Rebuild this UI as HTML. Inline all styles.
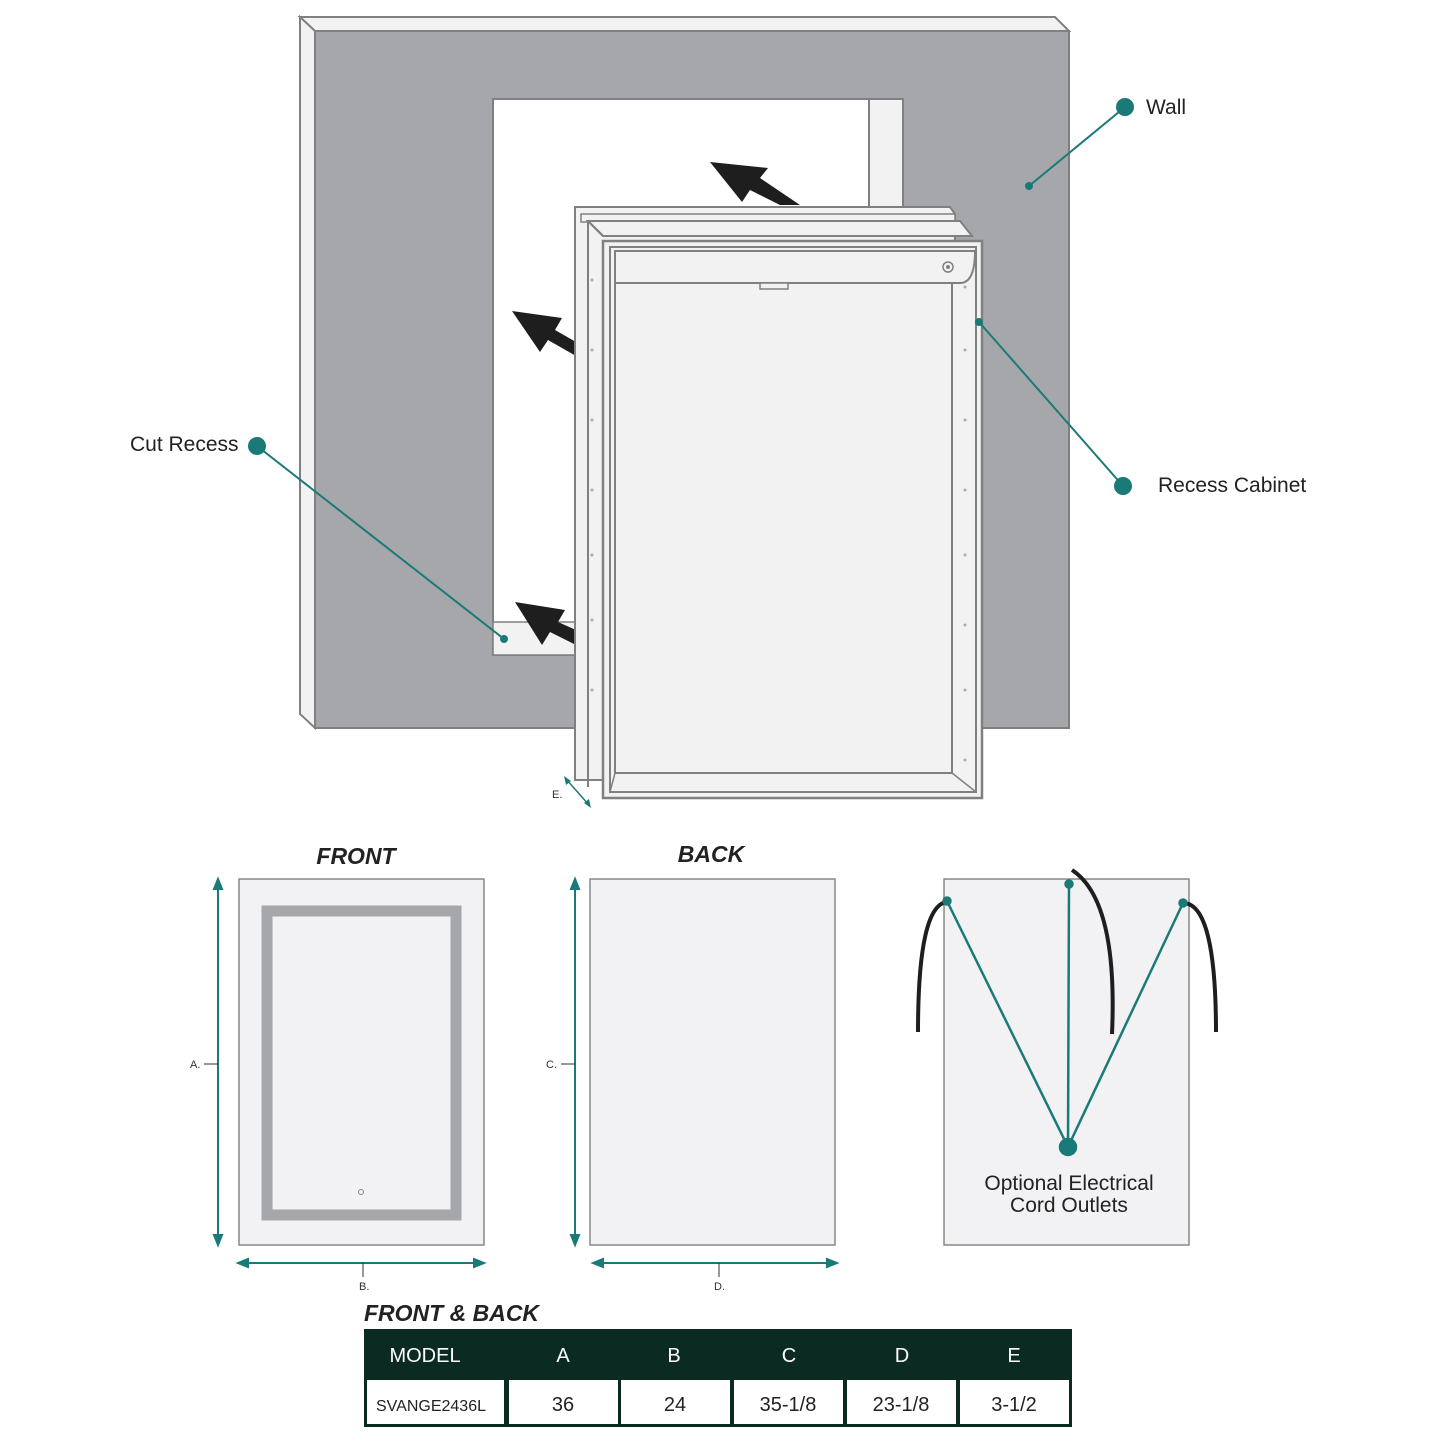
<!DOCTYPE html>
<html><head><meta charset="utf-8"><style>
html,body{margin:0;padding:0;background:#fff;}
svg{display:block;font-family:"Liberation Sans",sans-serif;}
</style></head><body>
<svg width="1445" height="1445" viewBox="0 0 1445 1445" xmlns="http://www.w3.org/2000/svg">
<polygon points="300,17 1055,17 1069,31 315,31" fill="#f2f2f3" stroke="#808080" stroke-width="2"/>
<polygon points="300,17 315,31 315,728 300,714" fill="#f2f2f3" stroke="#808080" stroke-width="2"/>
<path d="M315,31 H1069 V728 H315 Z M493,99 V655 H903 V99 Z" fill="#a6a7ab" fill-rule="evenodd" stroke="#808080" stroke-width="2"/>
<rect x="493" y="99" width="410" height="556" fill="#fff" stroke="#808080" stroke-width="2"/>
<rect x="869" y="99" width="34" height="120" fill="#f2f2f3" stroke="#808080" stroke-width="2"/>
<polygon points="493,622 575,622 575,655 493,655" fill="#f2f2f3" stroke="#808080" stroke-width="1.5"/>
<g fill="#1e1e1e">
<polygon points="710,162 768,168 760,178 800,205 780,205 750,190 742,202"/>
<polygon points="512,311 562,318 555,330 576,342 576,356 548,340 540,352"/>
<polygon points="515,602 565,610 558,622 576,630 576,645 550,632 542,645"/>
</g>
<polygon points="575,207 950,207 955,214 955,780 575,780" fill="#f2f2f3" stroke="#808080" stroke-width="2"/>
<polygon points="581,214 955,214 955,222 581,222" fill="#f2f2f3" stroke="#808080" stroke-width="1.5"/>
<polygon points="588,221 960,221 972,236 603,236" fill="#f2f2f3" stroke="#808080" stroke-width="2"/>
<line x1="588" y1="221" x2="588" y2="787" stroke="#808080" stroke-width="2"/>
<line x1="588" y1="221" x2="603" y2="236" stroke="#808080" stroke-width="2"/>
<rect x="603" y="241" width="379" height="557" fill="#f2f2f3" stroke="#808080" stroke-width="2.5"/>
<rect x="610" y="247" width="366" height="545" fill="none" stroke="#808080" stroke-width="2"/>
<path d="M615,251 H975 Q975,283 960,283 H615 Z" fill="#f2f2f3" stroke="#808080" stroke-width="2"/>
<rect x="615" y="283" width="337" height="490" fill="#f2f2f3" stroke="#808080" stroke-width="2"/>
<line x1="610" y1="792" x2="615" y2="773" stroke="#808080" stroke-width="1.5"/>
<line x1="976" y1="792" x2="952" y2="773" stroke="#808080" stroke-width="1.5"/>
<rect x="760" y="283" width="28" height="6" fill="#f2f2f3" stroke="#808080" stroke-width="1.5"/>
<circle cx="948" cy="267" r="5" fill="none" stroke="#808080" stroke-width="1.5"/>
<circle cx="948" cy="267" r="2" fill="#808080"/>
<g fill="#aaa">
<circle cx="592" cy="280" r="1.5"/><circle cx="592" cy="350" r="1.5"/><circle cx="592" cy="420" r="1.5"/><circle cx="592" cy="490" r="1.5"/><circle cx="592" cy="555" r="1.5"/><circle cx="592" cy="620" r="1.5"/><circle cx="592" cy="690" r="1.5"/>
<circle cx="965" cy="287" r="1.5"/><circle cx="965" cy="350" r="1.5"/><circle cx="965" cy="420" r="1.5"/><circle cx="965" cy="490" r="1.5"/><circle cx="965" cy="555" r="1.5"/><circle cx="965" cy="625" r="1.5"/><circle cx="965" cy="690" r="1.5"/><circle cx="965" cy="760" r="1.5"/>
</g>
<line x1="566" y1="779" x2="589" y2="805" stroke="#1a7a78" stroke-width="1.5"/>
<polygon points="564,776 566,785 571,781" fill="#1a7a78"/>
<polygon points="591,808 589,799 584,803" fill="#1a7a78"/>
<text x="552" y="798" font-size="11" fill="#333">E.</text>
<g stroke="#1a7a78" stroke-width="2" fill="#1a7a78">
<line x1="1125" y1="107" x2="1029" y2="186"/><circle cx="1125" cy="107" r="8"/><circle cx="1029" cy="186" r="3"/>
<line x1="257" y1="446" x2="504" y2="639"/><circle cx="257" cy="446" r="8"/><circle cx="504" cy="639" r="3"/>
<line x1="979" y1="322" x2="1123" y2="486"/><circle cx="1123" cy="486" r="8"/><circle cx="979" cy="322" r="3"/>
</g>
<text x="1146" y="114" font-size="21" fill="#222">Wall</text>
<text x="130" y="451" font-size="21" fill="#222">Cut Recess</text>
<text x="1158" y="492" font-size="21" fill="#222">Recess Cabinet</text>
<text x="356" y="864" font-size="23" font-weight="bold" font-style="italic" text-anchor="middle" fill="#222">FRONT</text>
<rect x="239" y="879" width="245" height="366" fill="#f2f2f4" stroke="#888" stroke-width="1.5"/>
<rect x="267" y="911" width="189" height="304" fill="none" stroke="#a6a7ab" stroke-width="11"/>
<circle cx="361" cy="1192" r="2.5" fill="none" stroke="#888"/>
<text x="711" y="862" font-size="23" font-weight="bold" font-style="italic" text-anchor="middle" fill="#222">BACK</text>
<rect x="590" y="879" width="245" height="366" fill="#f2f2f4" stroke="#888" stroke-width="1.5"/>
<rect x="944" y="879" width="245" height="366" fill="#f2f2f4" stroke="#888" stroke-width="1.5"/>
<g fill="none" stroke="#1e1e1e" stroke-width="4">
<path d="M947,902 Q918,905 918,1032"/>
<path d="M1072,870 Q1118,900 1112,1034"/>
<path d="M1184,903 Q1216,905 1216,1032"/>
</g>
<g stroke="#1a7a78" stroke-width="2.5" fill="#1a7a78">
<line x1="947" y1="901" x2="1068" y2="1147"/><line x1="1069" y1="884" x2="1068" y2="1147"/><line x1="1183" y1="903" x2="1068" y2="1147"/>
<circle cx="1068" cy="1147" r="8"/><circle cx="947" cy="901" r="3.5"/><circle cx="1069" cy="884" r="3.5"/><circle cx="1183" cy="903" r="3.5"/>
</g>
<text x="1069" y="1190" font-size="21" text-anchor="middle" fill="#222">Optional Electrical</text>
<text x="1069" y="1212" font-size="21" text-anchor="middle" fill="#222">Cord Outlets</text>
<g stroke="#1a7a78" stroke-width="2" fill="#1a7a78">
<line x1="218" y1="884" x2="218" y2="1240"/><polygon points="218,879 214,889 222,889"/><polygon points="218,1245 214,1235 222,1235"/>
<line x1="575" y1="884" x2="575" y2="1240"/><polygon points="575,879 571,889 579,889"/><polygon points="575,1245 571,1235 579,1235"/>
<line x1="243" y1="1263" x2="479" y2="1263"/><polygon points="238,1263 248,1259 248,1267"/><polygon points="484,1263 474,1259 474,1267"/>
<line x1="598" y1="1263" x2="832" y2="1263"/><polygon points="593,1263 603,1259 603,1267"/><polygon points="837,1263 827,1259 827,1267"/>
</g>
<g stroke="#333" stroke-width="1"><line x1="204" y1="1064" x2="218" y2="1064"/><line x1="561" y1="1064" x2="575" y2="1064"/><line x1="363" y1="1263" x2="363" y2="1277"/><line x1="719" y1="1263" x2="719" y2="1277"/></g>
<g font-size="11" fill="#333"><text x="190" y="1068">A.</text><text x="546" y="1068">C.</text><text x="359" y="1290">B.</text><text x="714" y="1290">D.</text></g>
<text x="364" y="1321" font-size="23" font-weight="bold" font-style="italic" fill="#222">FRONT &amp; BACK</text>
<rect x="364" y="1329" width="708" height="98" fill="#0a2a22"/>
<g fill="#fff">
<rect x="367" y="1380" width="137" height="44"/><rect x="509" y="1380" width="109" height="44"/><rect x="621" y="1380" width="109" height="44"/><rect x="734" y="1380" width="109" height="44"/><rect x="847" y="1380" width="109" height="44"/><rect x="960" y="1380" width="109" height="44"/>
</g>
<g font-size="20" fill="#fff" text-anchor="middle"><text x="425" y="1362">MODEL</text><text x="563" y="1362">A</text><text x="674" y="1362">B</text><text x="789" y="1362">C</text><text x="902" y="1362">D</text><text x="1014" y="1362">E</text></g>
<g font-size="20" fill="#222" text-anchor="middle"><text x="431" y="1411" font-size="16">SVANGE2436L</text><text x="563" y="1411">36</text><text x="675" y="1411">24</text><text x="788" y="1411">35-1/8</text><text x="901" y="1411">23-1/8</text><text x="1014" y="1411">3-1/2</text></g>
</svg>
</body></html>
